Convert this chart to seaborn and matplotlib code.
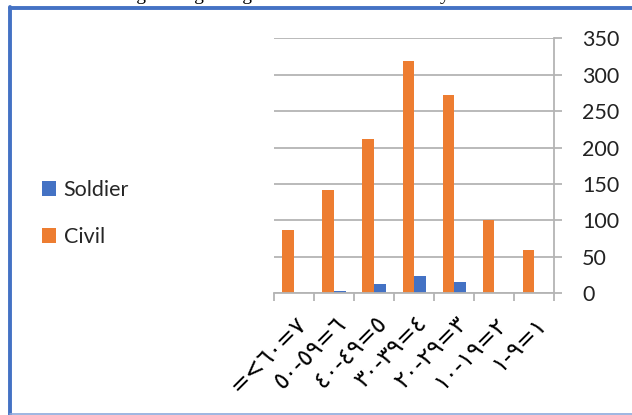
import matplotlib
matplotlib.use("Agg")
import matplotlib.pyplot as plt
import seaborn as sns
import pandas as pd
from matplotlib.lines import Line2D
from matplotlib.patches import Patch

# ---- data ----
categories = ["=<٦٠=٧", "٥٠-٥٩=٦", "٤٠-٤٩=٥", "٣٠-٣٩=٤", "٢٠-٢٩=٣", "١٠-١٩=٢", "١-٩=١"]
soldier = [0, 3, 13, 24, 16, 0, 0]
civil = [87, 142, 212, 319, 272, 100, 59]
series_names = ["Soldier", "Civil"]
y_ticks = [0, 50, 100, 150, 200, 250, 300, 350]
title_text = "Figure: Age range of the civil and military victims"

BLUE = "#4472C4"
ORANGE = "#ED7D31"
GRID = "#B4B4B4"

df = pd.DataFrame({
    "cat": categories * 2,
    "value": civil + soldier,
    "series": ["Civil"] * len(categories) + ["Soldier"] * len(categories),
})

sns.set_theme(style="white")
plt.rcParams["font.family"] = ["Lato", "DejaVu Sans"]

W, H = 632, 415
fig = plt.figure(figsize=(W / 100, H / 100), dpi=100)
fig.patch.set_facecolor("white")

ax = fig.add_axes([274 / W, 1 - 293.3 / H, (554.3 - 274) / W, (293.3 - 38.3) / H])
sns.barplot(data=df, x="cat", y="value", hue="series", hue_order=["Civil", "Soldier"],
            order=categories, palette={"Civil": ORANGE, "Soldier": BLUE},
            width=0.58, ax=ax, legend=False, saturation=1, edgecolor="none")

ax.set_xlim(-0.5, len(categories) - 0.5)
ax.set_ylim(0, 350)
ax.set_yticks(y_ticks)
ax.yaxis.tick_right()
ax.yaxis.set_label_position("right")
ax.set_xlabel("")
ax.set_ylabel("")
ax.grid(axis="y", color=GRID, linewidth=1.3)
ax.set_axisbelow(True)

for s in ["top", "left"]:
    ax.spines[s].set_visible(False)
for s in ["right", "bottom"]:
    ax.spines[s].set_visible(True)
    ax.spines[s].set_color(GRID)
    ax.spines[s].set_linewidth(1.3)

ax.tick_params(axis="y", which="major", right=True, length=6, width=1.3, color=GRID,
               labelsize=15.5, pad=14, labelcolor="#222222")
# category labels at centres, boundary tick marks as minor ticks
ax.set_xticks(range(len(categories)))
ax.set_xticklabels(categories, rotation=45, ha="right", rotation_mode="anchor",
                   fontsize=17, family="DejaVu Sans", color="black")
ax.set_xticks([i - 0.5 for i in range(len(categories) + 1)], minor=True)
ax.tick_params(axis="x", which="major", length=0, pad=13)
ax.tick_params(axis="x", which="minor", bottom=True, length=6, width=1.3, color=GRID)

handles = [Patch(facecolor=BLUE, edgecolor="none"), Patch(facecolor=ORANGE, edgecolor="none")]
fig.legend(handles, series_names, loc="center left", bbox_to_anchor=(42 / W, 1 - 213.5 / H),
           frameon=False, fontsize=15.5, handlelength=0.65, handleheight=0.65,
           handletextpad=0.35, labelspacing=1.25, borderpad=0, borderaxespad=0)

# caption above the chart frame, cut by the page edge as in the reference
fig.text(0.5, 1 + 0.5 / H, title_text, ha="center", va="baseline", fontsize=14,
         family="Liberation Serif", color="black")

# document frame
fig.add_artist(Line2D([10 / W, 1], [1 - 8.5 / H, 1 - 8.5 / H], transform=fig.transFigure,
                      color=BLUE, linewidth=2.8))
fig.add_artist(Line2D([10.5 / W, 10.5 / W], [0, 1 - 7 / H], transform=fig.transFigure,
                      color=BLUE, linewidth=2.8))
fig.add_artist(Line2D([10 / W, 1], [1.5 / H, 1.5 / H], transform=fig.transFigure,
                      color="#8EA9DB", linewidth=1.2))

fig.savefig("out.png", dpi=100, facecolor="white")
